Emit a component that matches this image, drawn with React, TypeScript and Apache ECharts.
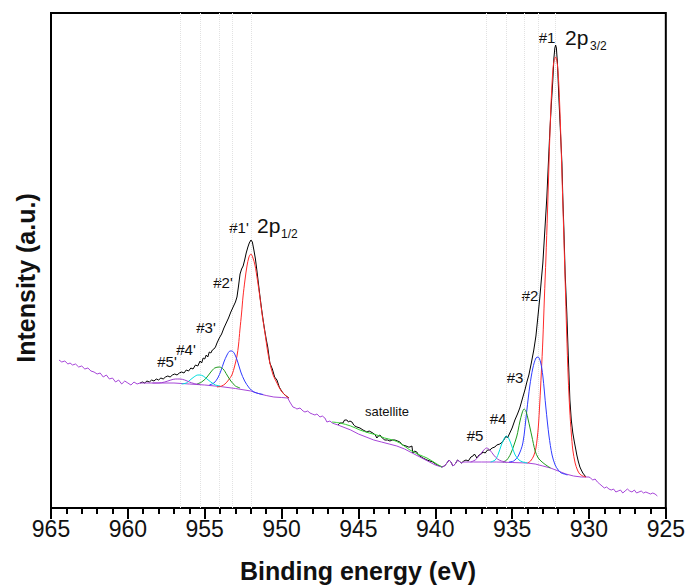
import React, { useEffect, useRef } from "react";
import * as echarts from "echarts";

// Binding energy (eV) / intensity (a.u.) pairs
const background: [number, number][] = [
  [964.48, 148], [964.3, 146], [964.1, 147], [963.9, 144], [963.76, 145], [963.6, 143], [963.4, 144],
  [963.2, 141], [963.0, 142], [962.8, 139], [962.6, 140], [962.4, 137], [962.2, 136], [962.0, 134],
  [961.8, 135], [961.6, 131], [961.4, 133], [961.2, 129], [961.0, 130], [960.8, 126], [960.6, 128],
  [960.4, 124], [960.2, 127], [960.0, 125], [959.8, 123], [959.6, 126], [959.4, 124], [959.21, 125],
  [959.0, 125], [957.0, 125], [956.0, 124], [955.0, 123], [954.0, 121.5], [953.0, 119.5], [952.0, 117],
  [951.4, 114], [951.0, 112.5], [950.5, 111], [950.0, 110.5], [949.6, 110],
  [949.46, 106], [949.26, 101], [949.1, 100], [949.0, 99], [948.8, 100], [948.6, 97], [948.48, 96],
  [948.3, 97], [948.15, 95], [948.0, 94], [947.83, 93], [947.7, 94], [947.5, 91], [947.35, 92],
  [947.18, 90], [947.05, 86], [946.85, 87], [946.7, 85], [946.53, 84], [946.33, 83],
  [946.0, 81], [945.5, 78], [945.0, 74], [944.5, 71], [944.0, 68], [943.5, 66], [943.0, 64],
  [942.5, 62], [942.0, 59], [941.5, 55], [941.0, 51], [940.5, 47], [940.0, 43], [939.57, 41],
  [939.4, 42], [939.24, 45], [939.1, 48], [938.98, 46], [938.85, 42], [938.7, 44], [938.55, 48],
  [938.46, 47], [938.3, 45], [938.14, 46],
  [937.5, 46], [937.0, 46], [936.0, 46], [935.0, 45.5], [934.0, 45], [933.5, 44], [933.0, 42],
  [932.5, 40], [932.0, 37], [931.5, 34], [931.0, 32], [930.5, 31], [930.0, 31],
  [929.9, 30], [929.75, 28], [929.6, 29], [929.45, 26], [929.3, 24], [929.15, 22], [929.0, 20],
  [928.85, 21], [928.7, 19], [928.55, 18], [928.4, 19], [928.25, 16], [928.1, 17], [927.95, 18],
  [927.8, 15], [927.65, 17], [927.5, 19], [927.35, 17], [927.2, 16], [927.05, 18], [926.9, 15],
  [926.75, 16], [926.6, 17], [926.45, 15], [926.3, 16], [926.15, 15], [926.0, 14], [925.85, 15],
  [925.7, 14], [925.55, 12],
];

const rawLeft: [number, number][] = [
  [959.21, 125], [959.05, 126], [958.9, 125], [958.76, 127], [958.6, 126], [958.45, 128], [958.3, 127],
  [958.15, 129], [958.0, 128], [957.85, 130], [957.7, 129], [957.55, 131], [957.4, 132], [957.25, 131],
  [957.1, 133], [956.95, 134], [956.8, 133], [956.65, 135], [956.5, 136], [956.35, 135], [956.2, 138],
  [956.05, 137], [955.9, 140], [955.76, 139], [955.6, 143], [955.45, 142], [955.3, 147], [955.2, 145],
  [955.1, 150], [955.0, 149], [954.9, 153], [954.8, 151], [954.7, 156], [954.6, 155], [954.5, 158],
  [954.4, 159], [954.3, 161], [954.2, 165], [954.05, 170], [953.9, 174], [953.75, 180], [953.6, 185],
  [953.45, 190], [953.3, 196], [953.15, 201], [953.0, 206], [952.9, 211], [952.8, 222], [952.7, 234],
  [952.6, 239], [952.5, 242], [952.4, 248], [952.3, 255], [952.19, 261], [952.1, 265], [951.99, 268],
  [951.9, 266], [951.8, 258], [951.7, 249], [951.6, 237], [951.5, 224], [951.4, 211], [951.3, 199],
  [951.2, 188], [951.1, 178], [951.0, 169], [950.9, 161], [950.76, 145], [950.6, 139], [950.45, 131],
  [950.3, 128], [950.15, 121], [950.0, 117], [949.85, 114], [949.7, 112], [949.52, 110],
];

const rawRight: [number, number][] = [
  [946.33, 83], [946.2, 85], [946.01, 85], [945.9, 88], [945.75, 88], [945.65, 86], [945.55, 87],
  [945.42, 86], [945.3, 83], [945.23, 82], [945.1, 81], [944.9, 80], [944.7, 78], [944.45, 76],
  [944.3, 77], [944.06, 75], [943.9, 73], [943.8, 70], [943.7, 72], [943.6, 73], [943.45, 70],
  [943.28, 68], [943.1, 68], [942.95, 67], [942.8, 68], [942.63, 68], [942.45, 67], [942.3, 66],
  [942.2, 64], [942.11, 63], [941.9, 62], [941.75, 61], [941.65, 61], [941.52, 62], [941.46, 55],
  [941.35, 57], [941.2, 56], [941.1, 53], [941.0, 52], [940.8, 50], [940.54, 48], [940.35, 47],
  [940.15, 46], [939.89, 43], [939.7, 42], [939.57, 41],
  [939.4, 42], [939.24, 45], [939.1, 48], [938.98, 46], [938.85, 42], [938.7, 44], [938.55, 48],
  [938.46, 47], [938.3, 45], [938.14, 47], [938.0, 48], [937.85, 47], [937.68, 51], [937.55, 52],
  [937.45, 54], [937.29, 50], [937.15, 53], [937.0, 54], [936.9, 56], [936.75, 55], [936.6, 58],
  [936.45, 58], [936.3, 60], [936.12, 61], [936.0, 63], [935.8, 64], [935.63, 66], [935.5, 69],
  [935.4, 72], [935.3, 70], [935.15, 75], [935.0, 80], [934.82, 88], [934.65, 94], [934.5, 100],
  [934.3, 111], [934.15, 119], [934.04, 126], [933.91, 133], [933.75, 145], [933.59, 158],
  [933.45, 172], [933.33, 190], [933.2, 210], [933.1, 228], [933.0, 245], [932.87, 278],
  [932.74, 311], [932.64, 345], [932.54, 378], [932.45, 403], [932.35, 428], [932.28, 450],
  [932.22, 460], [932.17, 463], [932.12, 460], [932.05, 445], [931.96, 411], [931.86, 378],
  [931.76, 345], [931.7, 310], [931.63, 278], [931.55, 235], [931.44, 195], [931.34, 150],
  [931.24, 108], [931.15, 88], [931.05, 75], [930.95, 66], [930.85, 58], [930.79, 53], [930.7, 47],
  [930.59, 41], [930.5, 38], [930.4, 35], [930.3, 33], [930.2, 31],
];

const satellite: [number, number][] = [
  [946.72, 86], [946.2, 85], [945.5, 82], [944.9, 78], [944.3, 75], [943.8, 73], [943.3, 70],
  [942.76, 68], [942.3, 65], [941.65, 58], [941.0, 53], [940.54, 50], [940.0, 45], [939.57, 41],
];

const peak1: [number, number][] = [
  [934.0, 45], [933.8, 47], [933.6, 52], [933.45, 60], [933.3, 80], [933.2, 105], [933.1, 135],
  [933.0, 168], [932.9, 210], [932.8, 250], [932.7, 295], [932.6, 345], [932.5, 392], [932.4, 425],
  [932.3, 445], [932.17, 451], [932.05, 443], [931.95, 420], [931.85, 380], [931.75, 330],
  [931.65, 280], [931.55, 228], [931.45, 175], [931.35, 130], [931.25, 98], [931.15, 75],
  [931.05, 58], [930.9, 45], [930.75, 38], [930.6, 34], [930.4, 32], [930.2, 31],
];
const peak2: [number, number][] = [
  [935.2, 46], [934.9, 47], [934.6, 52], [934.3, 65], [934.04, 98], [933.85, 122], [933.65, 140],
  [933.45, 150], [933.31, 151], [933.15, 146], [933.0, 132], [932.8, 100], [932.6, 72], [932.4, 53],
  [932.2, 43], [932.0, 38], [931.8, 35], [931.6, 34], [931.4, 33],
];
const peak3: [number, number][] = [
  [935.6, 46], [935.35, 48], [935.1, 54], [934.9, 62], [934.69, 72], [934.5, 86], [934.35, 95],
  [934.22, 99], [934.1, 97], [933.95, 88], [933.72, 72], [933.5, 57], [933.3, 50], [933.05, 46],
  [932.8, 43], [932.5, 40],
];
const peak4: [number, number][] = [
  [936.4, 46], [936.1, 48], [935.9, 54], [935.7, 63], [935.5, 70], [935.37, 72], [935.2, 69],
  [935.0, 61], [934.8, 53], [934.55, 48], [934.3, 46], [934.0, 45],
];
const peak5: [number, number][] = [
  [937.7, 46], [937.4, 48], [937.1, 53], [936.9, 57], [936.66, 60], [936.45, 58], [936.2, 53],
  [935.95, 49], [935.7, 47], [935.4, 46],
];
const peak1p: [number, number][] = [
  [954.2, 121], [953.9, 122], [953.68, 124], [953.45, 128], [953.23, 133], [953.05, 142], [952.9, 152],
  [952.8, 163], [952.71, 178], [952.6, 195], [952.51, 211], [952.38, 228], [952.25, 242],
  [952.12, 251], [951.99, 254], [951.86, 250], [951.73, 243], [951.57, 228], [951.41, 211],
  [951.25, 192], [951.08, 175], [950.92, 158], [950.76, 145], [950.55, 133], [950.3, 125],
  [950.1, 119], [949.91, 115], [949.7, 112], [949.52, 110],
];
const peak2p: [number, number][] = [
  [954.7, 123], [954.4, 125], [954.15, 130], [953.95, 137], [953.75, 146], [953.55, 153],
  [953.35, 157], [953.23, 157], [953.05, 154], [952.85, 146], [952.65, 136], [952.4, 127],
  [952.1, 120], [951.8, 116], [951.5, 114.5], [951.2, 113.5],
];
const peak3p: [number, number][] = [
  [955.5, 124], [955.2, 126], [954.9, 130], [954.6, 136], [954.35, 140], [954.05, 141], [953.8, 139],
  [953.55, 133], [953.3, 127], [953.0, 122], [952.7, 120],
];
const peak4p: [number, number][] = [
  [956.5, 124], [956.2, 125], [955.95, 128], [955.7, 131], [955.45, 133], [955.31, 133], [955.1, 132],
  [954.85, 129], [954.6, 126], [954.3, 123], [954.0, 122],
];
const peak5p: [number, number][] = [
  [958.4, 125], [958.0, 125], [957.6, 126], [957.2, 128], [956.9, 129], [956.61, 129], [956.3, 128],
  [956.0, 126], [955.7, 124.5], [955.3, 123.5],
];

const peakCenters = [932.17, 933.31, 934.22, 935.37, 936.66, 951.99, 953.23, 954.05, 955.31, 956.61];
const xTicks = { min: 925, max: 965, step: 5 };

const FONT = "Liberation Sans, Arial, sans-serif";

export default function App() {
  const ref = useRef<HTMLDivElement>(null);
  useEffect(() => {
    if (!ref.current) return;
    const chart = echarts.init(ref.current, null, { renderer: "svg" });
    const line = (name: string, data: [number, number][], color: string, z: number, smooth: number | boolean = false) => ({
      name,
      type: "line",
      data,
      showSymbol: false,
      smooth,
      z,
      lineStyle: { color, width: 1 },
      itemStyle: { color },
      emphasis: { disabled: true },
    });
    const label = (text: string, x: number, y: number, size = 15) => ({
      type: "text",
      x,
      y,
      style: { text, fill: "#111", font: `${size}px ${FONT}`, textAlign: "center", textVerticalAlign: "middle" },
    });
    chart.setOption({
      animation: false,
      backgroundColor: "#fff",
      grid: { left: 51, right: 22, top: 13, bottom: 79, show: true, borderColor: "#000", borderWidth: 2 },
      xAxis: {
        type: "value",
        inverse: true,
        min: xTicks.min,
        max: xTicks.max,
        interval: xTicks.step,
        axisLine: { show: true, lineStyle: { color: "#000", width: 2 } },
        axisTick: { show: true, length: 11, lineStyle: { color: "#000", width: 2 } },
        minorTick: { show: true, splitNumber: 5, length: 6, lineStyle: { color: "#000", width: 2 } },
        axisLabel: { color: "#111", fontSize: 23, fontFamily: FONT, margin: 9 },
        splitLine: { show: false },
      },
      yAxis: {
        type: "value",
        min: 0,
        max: 495,
        axisLine: { show: true, lineStyle: { color: "#000", width: 2 } },
        axisTick: { show: false },
        axisLabel: { show: false },
        splitLine: { show: false },
      },
      series: [
        {
          ...line("Background", background, "#a646d8", 5),
          markLine: {
            silent: true,
            symbol: ["none", "none"],
            label: { show: false },
            lineStyle: { color: "#e2e2e2", type: "dotted", width: 1 },
            data: peakCenters.map((c) => ({ xAxis: c })),
            z: 1,
          },
        },
        line("Raw", rawLeft, "#000", 4),
        line("Raw", rawRight, "#000", 4),
        line("Satellite", satellite, "#33cc33", 6, 0.3),
        line("#1", peak1, "#ff2a2a", 6, 0.3),
        line("#2", peak2, "#2f3cff", 6, 0.3),
        line("#3", peak3, "#1e9a1e", 6, 0.3),
        line("#4", peak4, "#00dede", 6, 0.3),
        line("#5", peak5, "#a040d0", 6, 0.3),
        line("#1'", peak1p, "#ff2a2a", 6, 0.3),
        line("#2'", peak2p, "#2f3cff", 6, 0.3),
        line("#3'", peak3p, "#1e9a1e", 6, 0.3),
        line("#4'", peak4p, "#00dede", 6, 0.3),
        line("#5'", peak5p, "#a040d0", 6, 0.3),
      ],
      graphic: [
        label("#1", 547, 37),
        { type: "text", x: 565, y: 37, style: { text: "2p", fill: "#111", font: `21px ${FONT}`, textAlign: "left", textVerticalAlign: "middle" } },
        { type: "text", x: 590, y: 46, style: { text: "3/2", fill: "#111", font: `12px ${FONT}`, textAlign: "left", textVerticalAlign: "middle" } },
        label("#2", 530, 295),
        label("#3", 515, 377),
        label("#4", 498, 418),
        label("#5", 475, 435),
        label("satellite", 387, 411, 13),
        label("#1'", 239, 227),
        { type: "text", x: 257, y: 225, style: { text: "2p", fill: "#111", font: `21px ${FONT}`, textAlign: "left", textVerticalAlign: "middle" } },
        { type: "text", x: 281, y: 234, style: { text: "1/2", fill: "#111", font: `12px ${FONT}`, textAlign: "left", textVerticalAlign: "middle" } },
        label("#2'", 223, 282),
        label("#3'", 206, 327),
        label("#4'", 186, 349),
        label("#5'", 167, 361),
        {
          type: "text",
          x: 358,
          y: 571,
          style: { text: "Binding energy (eV)", fill: "#111", font: `bold 25px ${FONT}`, textAlign: "center", textVerticalAlign: "middle" },
        },
        {
          type: "text",
          x: 26,
          y: 278,
          rotation: Math.PI / 2,
          style: { text: "Intensity (a.u.)", fill: "#111", font: `bold 25px ${FONT}`, textAlign: "center", textVerticalAlign: "middle" },
        },
      ],
    });
    return () => chart.dispose();
  }, []);
  return <div ref={ref} style={{ position: "fixed", left: 0, top: 0, width: 688, height: 587 }} />;
}
